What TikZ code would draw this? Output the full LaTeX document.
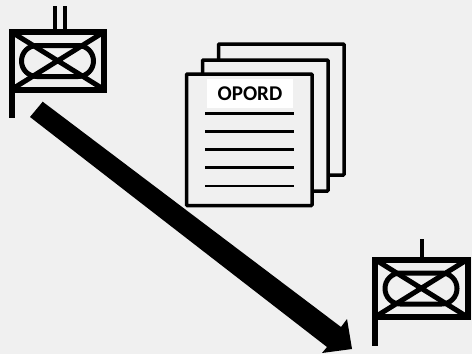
\documentclass[tikz,border=0pt]{standalone}
\usepackage{fontspec}
\setmainfont{Carlito}
\definecolor{bgc}{HTML}{F0F0F0}
\tikzset{
  x=1pt,y=-1pt,
  sheet/.style={draw=black,fill=bgc,line width=3.5pt,rounded corners=0.8pt},
  textline/.style={draw=black,line width=2.6pt},
  unitline/.style={draw=black,line width=6pt},
  unitthin/.style={draw=black,line width=5pt},
  antenna/.style={draw=black,line width=4.5pt},
  pics/unit/.style={code={
    \draw[unitthin,rounded corners=15.4pt] (0,0) rectangle (72,31);
    \draw[unitthin] (-10,-13.5) -- (82.5,44) (-10,44) -- (82.5,-13.5);
    \draw[unitline] (-10,-13.5) rectangle (82.5,44);
    \draw[unitline] (-10,41) -- (-10,72.5);
  }}
}
\begin{document}
\begin{tikzpicture}
\useasboundingbox[fill=bgc] (0,0) rectangle (472,354);
% first unit
\pic at (21.5,45.5) {unit};
\draw[antenna] (55,6) -- (55,30);
\draw[antenna] (65,6) -- (65,30);
% second unit
\pic at (385,273) {unit};
\draw[antenna] (422,239) -- (422,258);
% sheets
\draw[sheet] (218.5,44) rectangle (344,175);
\draw[sheet] (202.5,60) rectangle (328,191);
\draw[sheet] (186.5,74) rectangle (312,205.5);
\node[fill=white,inner sep=0pt,minimum width=86.5pt,minimum height=28.7pt,font=\bfseries\fontsize{21}{21}\selectfont] (title) at (250,93.3) {OPORD};
\foreach \y in {113.7,131.7,149.7,167.7,186}
  \draw[textline] (205,\y) -- (293.5,\y);
% arrow
\fill[black] (42.7,101.7) -- (341,327) -- (347,319) -- (352,349) -- (322,353) -- (327,347) -- (30,117) -- cycle;
\end{tikzpicture}
\end{document}
